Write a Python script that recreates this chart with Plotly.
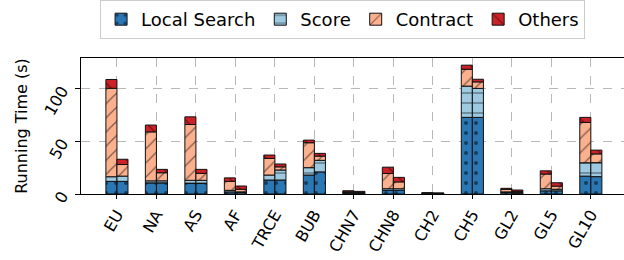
import numpy as np
import plotly.graph_objects as go

categories = ["EU", "NA", "AS", "AF", "TRCE", "BUB", "CHN7", "CHN8", "CH2", "CH5", "GL2", "GL5", "GL10"]
components = ["Local Search", "Score", "Contract", "Others"]

# first bar of each pair
a_local = [12, 10.5, 10, 2, 13.3, 18, 1, 3.5, 0.4, 72.8, 1.5, 3, 17]
a_score = [4.4, 2, 3, 1.5, 4.7, 7, 0.5, 1.5, 0.2, 29.7, 0.5, 2, 12.7]
a_contract = [84, 46.5, 53, 8.5, 15.8, 23.7, 0.6, 14.5, 0.3, 16, 2.4, 14, 38.3]
a_others = [8.4, 6.5, 7.3, 3.3, 3.2, 2.5, 1, 6, 0.3, 3.9, 1, 3, 4.8]

# second bar of each pair
b_local = [12, 10.5, 10, 1.5, 13.3, 21, 0.8, 3.5, 0.3, 72.8, 1, 3, 16.5]
b_score = [5, 2, 3, 0.5, 9.5, 11, 0.4, 1.5, 0.2, 27.5, 0.5, 1.5, 13.3]
b_contract = [11, 7.7, 6.6, 2.5, 3, 4, 0.4, 6.5, 0.2, 6.2, 1, 3, 8.3]
b_others = [5, 3.2, 3.8, 3.1, 2.7, 2.6, 0.9, 4.3, 0.2, 2.5, 1.3, 3.2, 3.6]

colors = ["#2a77b4", "#9ecae1", "#fbb08e", "#cc2127"]
shapes = [".", "-", "/", "\\"]

groups = [
    [a_local, a_score, a_contract, a_others],
    [b_local, b_score, b_contract, b_others],
]
bar_w = 0.28
offsets = [-bar_w, 0.0]

fig = go.Figure()
for gi, series in enumerate(groups):
    base = np.zeros(len(categories))
    for ci, vals in enumerate(series):
        vals = np.array(vals, dtype=float)
        fig.add_trace(go.Bar(
            x=categories, y=vals, base=base.copy(),
            width=bar_w, offset=offsets[gi],
            name=components[ci], legendgroup=components[ci],
            showlegend=(gi == 0),
            marker=dict(
                color=colors[ci],
                line=dict(color="#111111", width=1),
                pattern=dict(shape=shapes[ci], fgcolor="#000000",
                             size=10, solidity=0.12),
            ),
        ))
        base = base + vals

fig.update_layout(
    barmode="overlay",
    width=624, height=260,
    margin=dict(l=81, r=0, t=58, b=66, autoexpand=False),
    plot_bgcolor="white", paper_bgcolor="white",
    font=dict(family="DejaVu Sans", size=16, color="black"),
    legend=dict(
        orientation="h", xref="container", yref="container",
        x=0.549, xanchor="center", y=1.0, yanchor="top",
        bordercolor="#cccccc", borderwidth=1,
        font=dict(size=18), itemwidth=30, tracegroupgap=0,
        traceorder="normal",
    ),
    showlegend=True,
)
fig.update_xaxes(
    type="category", range=[-0.91, 12.84], automargin=False,
    tickangle=-60, ticks="outside", ticklen=4, tickcolor="black",
    showline=True, linecolor="black", linewidth=1, mirror=True,
    showgrid=True, gridcolor="#b8b8b8", griddash="dash", gridwidth=1,
    tickfont=dict(size=16),
)
fig.update_yaxes(
    range=[0, 129.2], tickvals=[0, 50, 100], automargin=False,
    tickangle=-60, ticks="outside", ticklen=5, tickcolor="black",
    ticklabelstandoff=10,
    showline=True, linecolor="black", linewidth=1, mirror=True,
    showgrid=True, gridcolor="#b8b8b8", griddash="dash", gridwidth=1,
    zeroline=False,
    title=dict(text="Running Time (s)", font=dict(size=16), standoff=8),
    tickfont=dict(size=16),
)

fig.write_html("out.html", config={"displayModeBar": False},
               post_script="document.body.style.margin='0px';")
